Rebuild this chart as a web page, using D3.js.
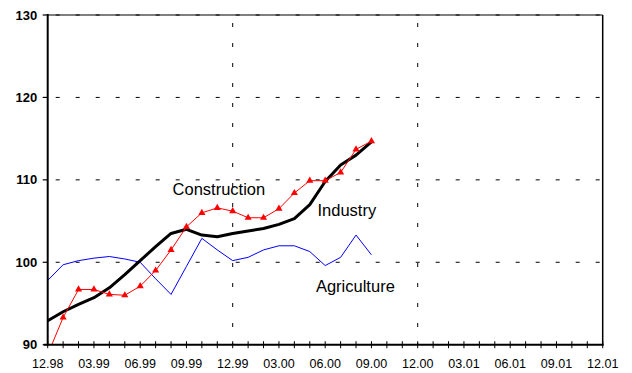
<!DOCTYPE html>
<html><head><meta charset="utf-8">
<script src="https://cdn.jsdelivr.net/npm/d3@7"></script>
<style>body{margin:0;background:#fff}svg{display:block;font-family:"Liberation Sans",Arial,sans-serif}</style>
</head><body><svg id="c" width="632" height="373"></svg>
<script>
const tickLabels = ["12.98","03.99","06.99","09.99","12.99","03.00","06.00","09.00","12.00","03.01","06.01","09.01","12.01"];
const yTicks = [90,100,110,120,130];
const construction = [88.8,93.3,96.7,96.7,96.1,96.0,97.1,99.0,101.5,104.3,106.0,106.6,106.2,105.4,105.4,106.5,108.4,109.9,109.9,110.9,113.7,114.7];
const industry = [92.9,94.0,94.9,95.7,96.9,98.5,100.2,101.9,103.5,104.0,103.3,103.1,103.5,103.8,104.1,104.6,105.3,107.0,109.8,111.8,113.0,114.6];
const agriculture = [97.8,99.7,100.2,100.5,100.7,100.4,100.0,98.0,96.1,99.5,102.9,101.5,100.2,100.6,101.5,102.0,102.0,101.3,99.6,100.6,103.3,100.9];
const seriesLabels = [
  {name:"Construction", month:8.1, value:108.2},
  {name:"Industry", month:17.5, value:105.6},
  {name:"Agriculture", month:17.4, value:96.4}
];

const svg = d3.select("#c");
const x = d3.scaleLinear().domain([0,36]).range([47.7,602.7]);
const y = d3.scaleLinear().domain([90,130]).range([344.7,15]);

// grid
const g = svg.append("g");
g.selectAll(".hg").data([100,110,120,130]).join("line")
  .attr("x1",x(0)).attr("x2",x(36)).attr("y1",d=>y(d)).attr("y2",d=>y(d))
  .attr("stroke","#000").attr("stroke-width",1).attr("stroke-dasharray","4,16").attr("stroke-dashoffset",-8);
g.selectAll(".vg").data([12,24]).join("line")
  .attr("x1",d=>x(d)).attr("x2",d=>x(d)).attr("y1",y(130)).attr("y2",y(90))
  .attr("stroke","#000").attr("stroke-width",1).attr("stroke-dasharray","4,16").attr("stroke-dashoffset",-8);
// border top/right
svg.append("line").attr("x1",x(0)).attr("x2",x(36)).attr("y1",y(130)).attr("y2",y(130)).attr("stroke","#000").attr("stroke-width",1.2);
svg.append("line").attr("x1",x(36)).attr("x2",x(36)).attr("y1",y(130)).attr("y2",y(90)).attr("stroke","#000").attr("stroke-width",1.5);

// clip
svg.append("clipPath").attr("id","clip").append("rect")
  .attr("x",x(0)).attr("y",y(130)).attr("width",x(36)-x(0)).attr("height",y(90)-y(130));

const line = d3.line().x((d,i)=>x(i)).y(d=>y(d));
const plot = svg.append("g").attr("clip-path","url(#clip)");
plot.append("path").datum(agriculture).attr("d",line).attr("fill","none").attr("stroke","#0000ff").attr("stroke-width",1);
plot.append("path").datum(industry).attr("d",line).attr("fill","none").attr("stroke","#000").attr("stroke-width",3).attr("stroke-linejoin","round");
plot.append("path").datum(construction).attr("d",line).attr("fill","none").attr("stroke","#ff0000").attr("stroke-width",1);
const tri = d3.symbol().type(d3.symbolTriangle).size(22);
plot.selectAll(".m").data(construction).join("path")
  .attr("d",tri).attr("transform",(d,i)=>`translate(${x(i)},${y(d)})`).attr("fill","#ff0000");

// axes
const ax = svg.append("g").attr("transform",`translate(0,${y(90)})`);
ax.append("line").attr("x1",x(0)-4).attr("x2",x(36)+1).attr("stroke","#000").attr("stroke-width",2);
ax.selectAll(".t").data(d3.range(0,37)).join("line")
  .attr("x1",d=>x(d)).attr("x2",d=>x(d)).attr("y1",-3.5).attr("y2",3.5).attr("stroke","#000").attr("stroke-width",1);
ax.selectAll(".l").data(tickLabels).join("text")
  .attr("x",(d,i)=>x(i*3)).attr("y",23.8).attr("text-anchor","middle")
  .attr("font-size","12.5px").text(d=>d);

const ay = svg.append("g");
ay.append("line").attr("x1",x(0)).attr("x2",x(0)).attr("y1",y(130)-1).attr("y2",y(90)+1).attr("stroke","#000").attr("stroke-width",2);
ay.selectAll(".t").data(yTicks).join("line")
  .attr("x1",x(0)-5).attr("x2",x(0)).attr("y1",d=>y(d)).attr("y2",d=>y(d)).attr("stroke","#000").attr("stroke-width",1.2);
ay.selectAll(".l").data(yTicks).join("text")
  .attr("x",37.3).attr("y",d=>y(d)+4.6).attr("text-anchor","end")
  .attr("font-size","13px").attr("font-weight","bold").text(d=>d);

// series labels
svg.selectAll(".sl").data(seriesLabels).join("text")
  .attr("x",d=>x(d.month)).attr("y",d=>y(d.value))
  .attr("font-size","16.5px").text(d=>d.name);
</script></body></html>
